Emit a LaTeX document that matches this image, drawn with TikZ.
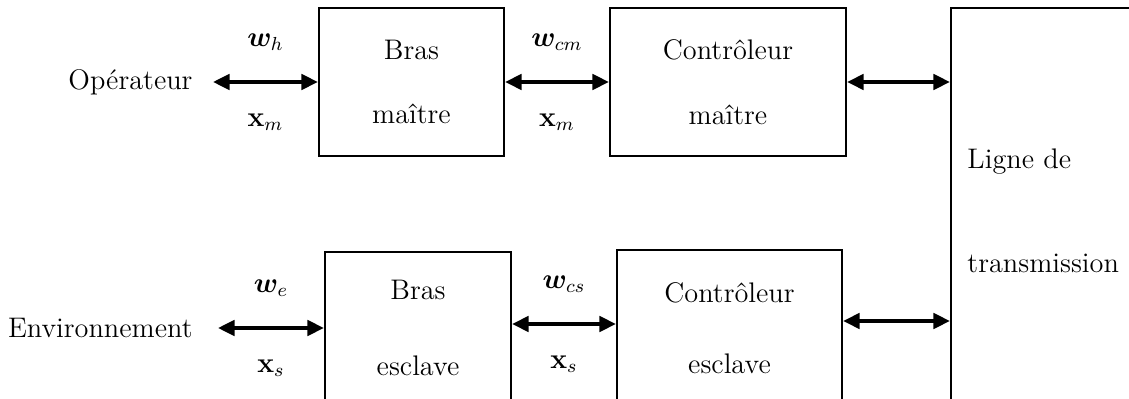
\documentclass[tikz,border=0pt]{standalone}
\usepackage{amsmath,amssymb,bm}
\usepackage{tikz}
\usetikzlibrary{arrows.meta,positioning,calc}
\newlength\pxu
\setlength\pxu{0.0149cm}

\begin{document}
\begin{tikzpicture}[x=\pxu,y=-\pxu,
  block/.style={draw,line width=0.9pt,inner sep=0pt,minimum height=148\pxu,
    align=center,font=\large},
  side/.style={font=\large,inner sep=0pt},
  link/.style={{Triangle[length=7pt,width=6.5pt]}-{Triangle[length=7pt,width=6.5pt]},line width=1.5pt},
  wlab/.style={midway,yshift=17pt,font=\large},
  xlab/.style={midway,yshift=-17pt,font=\large}
]
\clip (0,0) rectangle (1129,399);
% master side
\node[side,anchor=east] (op) at (193,82) {Opérateur};
\node[block,minimum width=185\pxu] (bm) at (411.5,82) {Bras\\[13.5pt]maître};
\node[block,minimum width=236\pxu] (cm) at (728,82) {Contrôleur\\[13.5pt]maître};
% transmission line
\node[draw,line width=0.9pt,minimum width=260\pxu,minimum height=460\pxu] (lig) at (1081,238) {};
\node[side,anchor=west,align=left] (ligtxt) at (967,211) {Ligne de\\[30pt]transmission};
% slave side
\node[side,anchor=east] (env) at (193,328) {Environnement};
\node[block,minimum width=186\pxu,minimum height=152\pxu] (be) at (418,328) {Bras\\[18pt]esclave};
\node[block,minimum width=225\pxu,minimum height=156\pxu] (ce) at (729.5,328) {Contrôleur\\[16pt]esclave};

\draw[link] ([xshift=20\pxu]op.east) -- (bm.west)
  node[wlab] {$\bm{w}_h$} node[xlab] {$\mathbf{x}_m$};
\draw[link] (bm.east) -- (cm.west)
  node[wlab] {$\bm{w}_{cm}$} node[xlab] {$\mathbf{x}_m$};
\draw[link] (cm.east) -- (cm.east -| lig.west);
\draw[link] ([xshift=25\pxu]env.east) -- (be.west)
  node[wlab] {$\bm{w}_e$} node[xlab] {$\mathbf{x}_s$};
\draw[link] ([yshift=4\pxu]be.east) -- ([yshift=4\pxu]be.east -| ce.west)
  node[wlab] {$\bm{w}_{cs}$} node[xlab] {$\mathbf{x}_s$};
\draw[link] ([yshift=7\pxu]ce.east) -- ([yshift=7\pxu]ce.east -| lig.west);
\end{tikzpicture}
\end{document}
